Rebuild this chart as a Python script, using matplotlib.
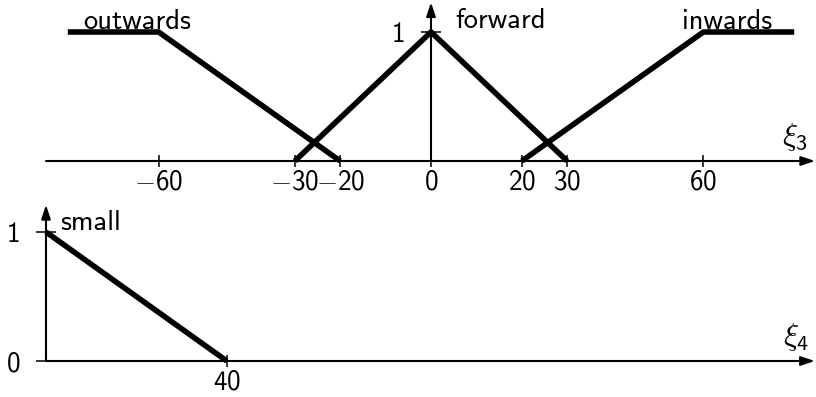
import numpy as np
import matplotlib
matplotlib.use("Agg")
import matplotlib.pyplot as plt

plt.rcParams['font.family'] = ['cmss10', 'DejaVu Sans']
plt.rcParams['mathtext.fontset'] = 'custom'
plt.rcParams['mathtext.rm'] = 'cmss10'
plt.rcParams['mathtext.it'] = 'cmss10'
plt.rcParams['mathtext.fallback'] = 'cm'
plt.rcParams['font.size'] = 20.5

# Hàm thuộc cho xi_3 (góc) và xi_4 (khoảng cách)
outwards_x = [-80, -60, -20]
outwards_y = [1, 1, 0]
forward_x = [-30, 0, 30]
forward_y = [0, 1, 0]
inwards_x = [20, 60, 80]
inwards_y = [0, 1, 1]
xi3_ticks = [-60, -30, -20, 0, 20, 30, 60]

small_x = [0, 40]
small_y = [1, 0]
xi4_ticks = [40]


def lbl(v):
    # dấu trừ kiểu LaTeX, chữ số không chân
    return r'$%d$' % v


W, H = 816, 397
fig = plt.figure(figsize=(W / 100, H / 100), dpi=100)

# trục trên: 4.54 px / đơn vị, gốc tại (431, 161)
ax1 = fig.add_axes([0, 1 - 200 / H, 1, 200 / H])
ax1.set_xlim(-431 / 4.54, (W - 431) / 4.54)
ax1.set_ylim(-(200 - 161) / 129, 161 / 129)

# trục dưới: gốc tại (46, 361)
ax2 = fig.add_axes([0, 0, 1, 197 / H])
ax2.set_xlim(-46 / 4.52, (W - 46) / 4.52)
ax2.set_ylim(-(397 - 361) / 129, (361 - 200) / 129)

lw_mf = 4.0
for x, y in [(outwards_x, outwards_y), (forward_x, forward_y), (inwards_x, inwards_y)]:
    ax1.plot(x, y, color='black', lw=lw_mf, solid_capstyle='butt', solid_joinstyle='miter')
ax2.plot(small_x, small_y, color='black', lw=lw_mf, solid_capstyle='butt')

arrow = dict(arrowstyle='-|>,head_length=0.75,head_width=0.25', lw=1.5, color='black',
             shrinkA=0, shrinkB=0, mutation_scale=11)

for ax, xr, ytop in [(ax1, (-84.8, 84.6), 1.23), (ax2, (0, 170.1), 1.21)]:
    for s in ax.spines.values():
        s.set_visible(False)
    ax.spines['bottom'].set_position(('data', 0))
    ax.spines['left'].set_position(('data', 0))
    ax.annotate('', xy=(xr[1], 0), xytext=(xr[0], 0), arrowprops=arrow,
                annotation_clip=False)
    ax.annotate('', xy=(0, ytop), xytext=(0, 0), arrowprops=arrow,
                annotation_clip=False)
    ax.tick_params(direction='inout', width=1.1, labelsize=19.5)
    ax.tick_params(axis='x', length=8.5, pad=2)
    ax.tick_params(axis='y', length=15, pad=11)

ax1.set_xticks(xi3_ticks)
ax1.set_xticklabels([lbl(v) for v in xi3_ticks])
ax1.set_yticks([1])
ax1.set_yticklabels(['1'])

ax2.set_xticks(xi4_ticks)
ax2.set_xticklabels([lbl(v) for v in xi4_ticks])
ax2.set_yticks([0, 1])
ax2.set_yticklabels(['0', '1'])

ax1.text(-76.7, 1.02, 'outwards', va='baseline')
ax1.text(5.3, 1.03, 'forward', va='baseline')
ax1.text(55.3, 1.02, 'inwards', va='baseline')
ax1.text(77.3, 0.06, r'$\xi_3$', va='bottom', fontsize=23)

ax2.text(163, 0.06, r'$\xi_4$', va='bottom', fontsize=23)
ax2.text(3.1, 1.016, 'small', va='baseline')

fig.savefig('out.png', dpi=100)
